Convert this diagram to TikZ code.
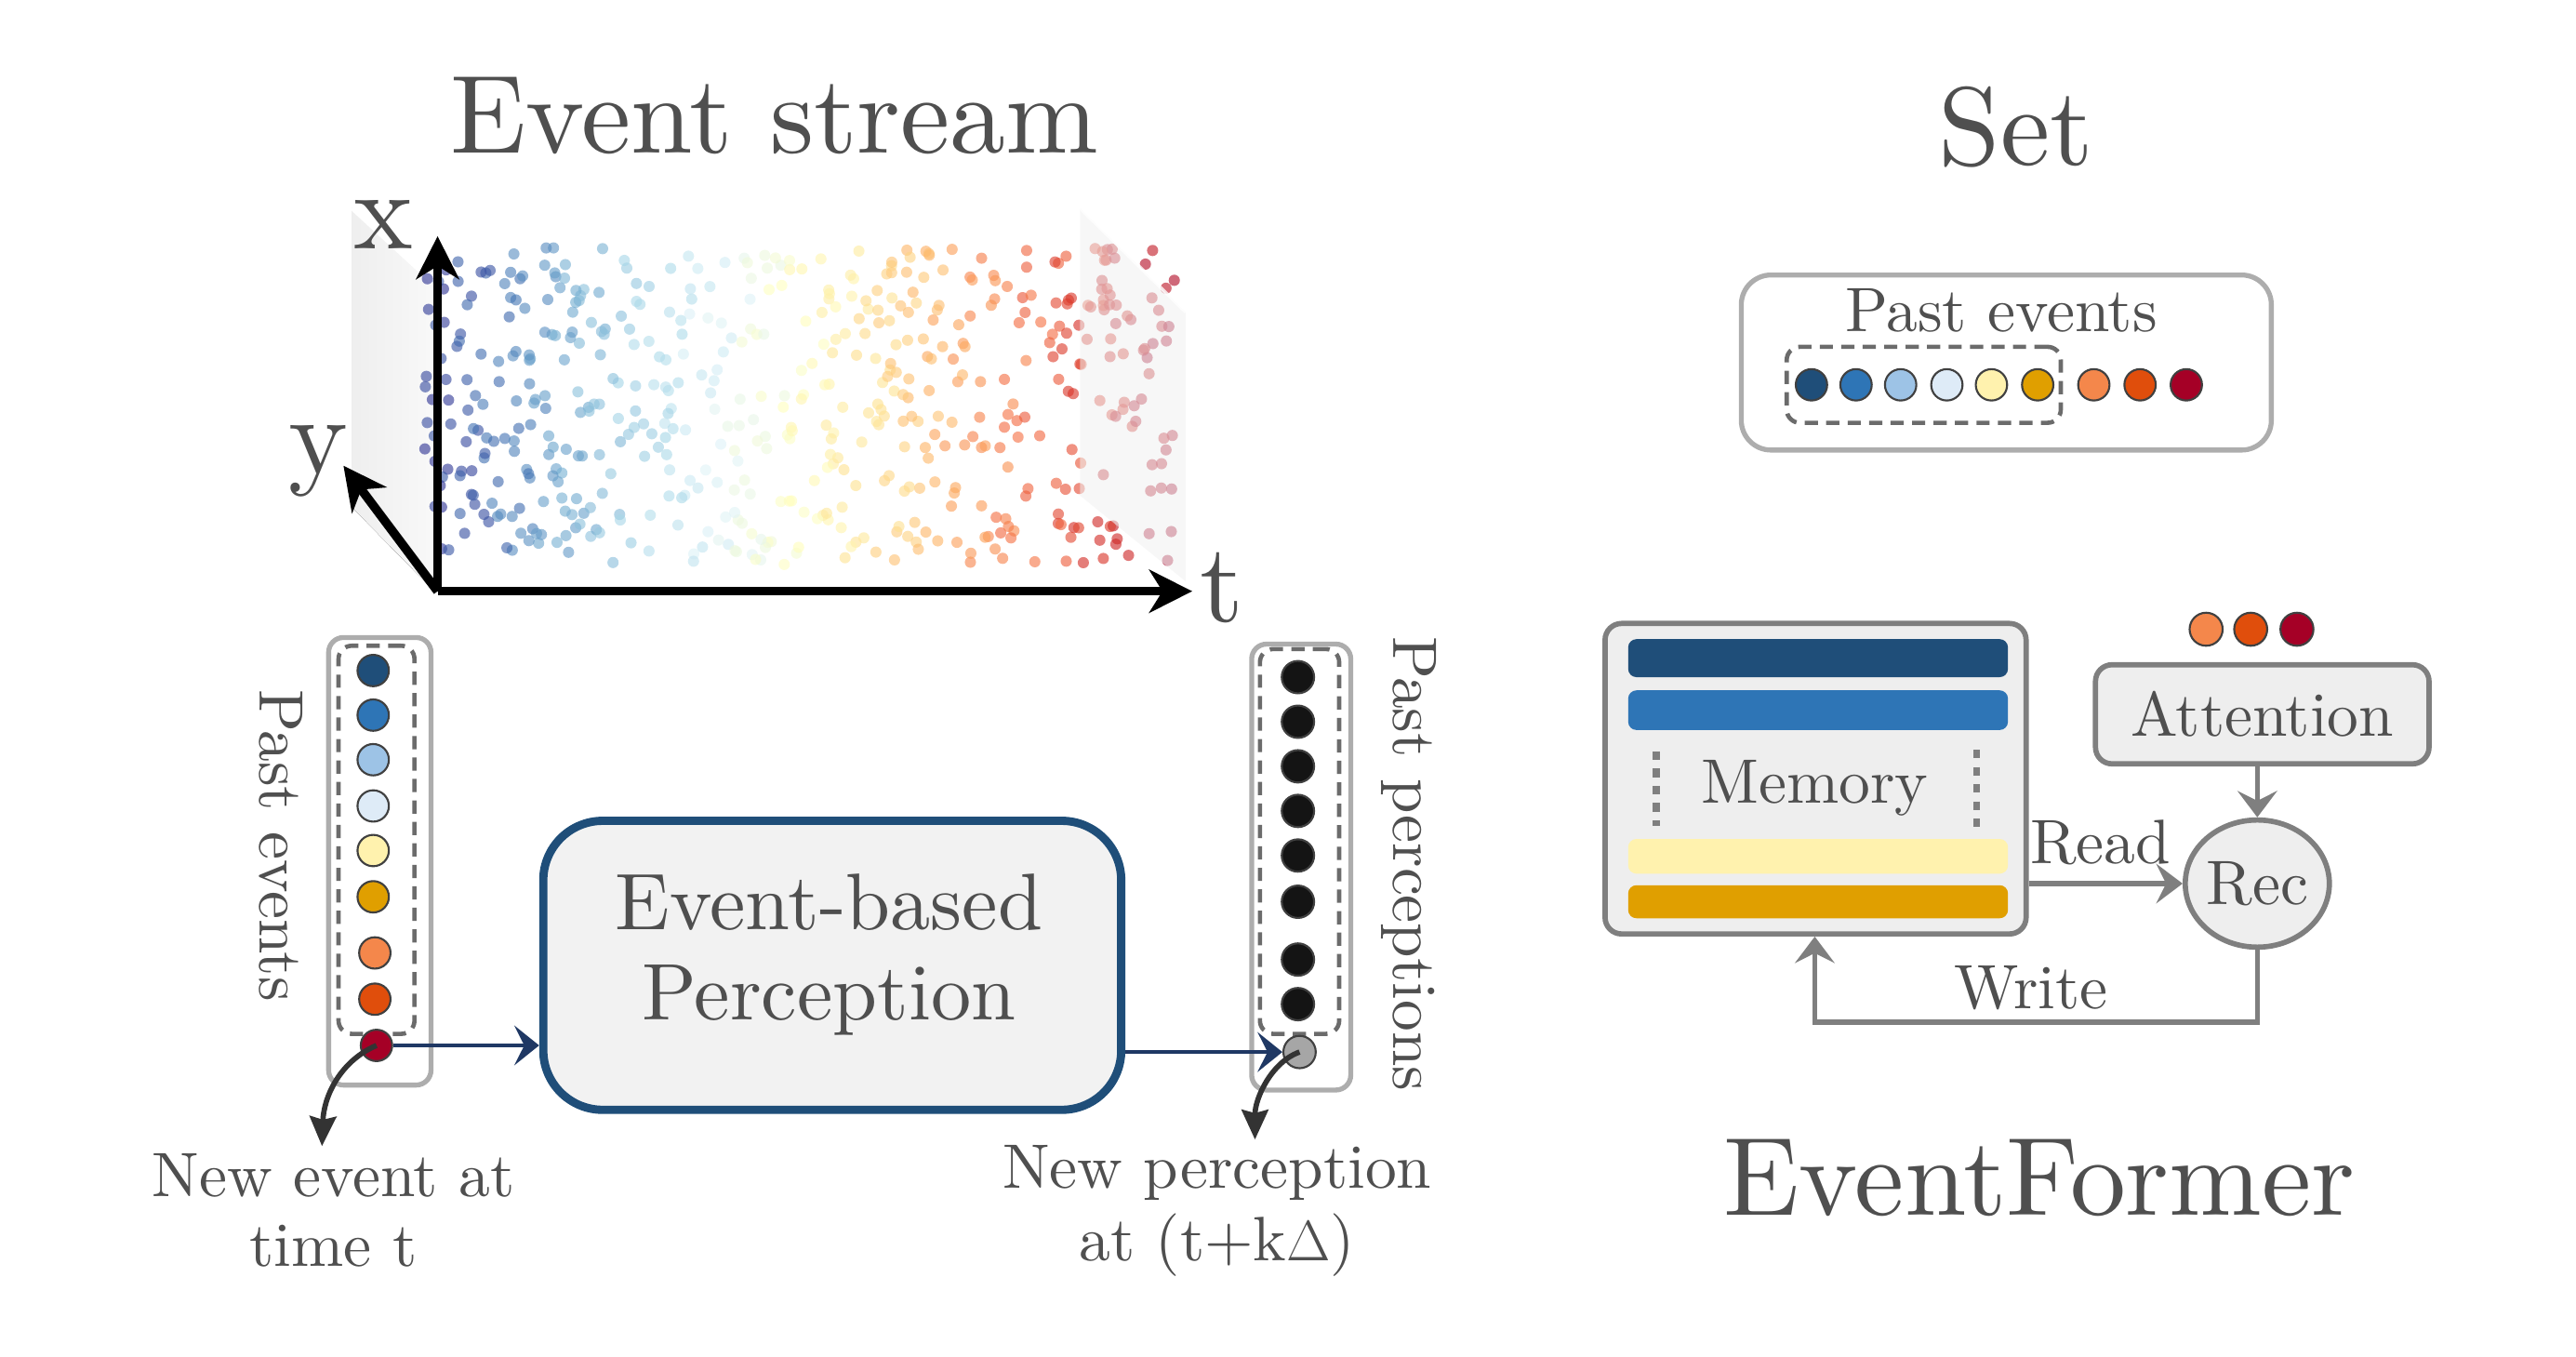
\documentclass[tikz,border=0pt]{standalone}
\usepackage{fontspec}
\setmainfont{lmroman10-regular.otf}
\usetikzlibrary{arrows.meta,shapes.geometric}
\definecolor{txt}{HTML}{4F4F4F}
\definecolor{navy}{HTML}{1F4E79}
\definecolor{arrnavy}{HTML}{1F3864}
\definecolor{gborder}{HTML}{ADADAD}
\definecolor{gdark}{HTML}{7F7F7F}
\definecolor{gfill}{HTML}{EEEEEE}
\definecolor{ev1}{HTML}{1F4E79}
\definecolor{ev2}{HTML}{2E75B6}
\definecolor{ev3}{HTML}{9DC3E6}
\definecolor{ev4}{HTML}{DEEBF7}
\definecolor{ev5}{HTML}{FFF2AE}
\definecolor{ev6}{HTML}{E09F00}
\definecolor{ev7}{HTML}{F4874B}
\definecolor{ev8}{HTML}{E04E0C}
\definecolor{ev9}{HTML}{A50026}
\definecolor{sc0}{HTML}{313695}
\definecolor{sc1}{HTML}{4575B4}
\definecolor{sc2}{HTML}{74ADD1}
\definecolor{sc3}{HTML}{ABD9E9}
\definecolor{sc4}{HTML}{E0F3F8}
\definecolor{sc5}{HTML}{FFFFBF}
\definecolor{sc6}{HTML}{FEE090}
\definecolor{sc7}{HTML}{FDAE61}
\definecolor{sc8}{HTML}{F46D43}
\definecolor{sc9}{HTML}{D73027}
\definecolor{sc10}{HTML}{A50026}
\tikzset{
  title/.style={text=txt, font=\fontsize{33.7}{40}\selectfont},
  axlbl/.style={text=txt, font=\fontsize{34}{40}\selectfont},
  lbl/.style={text=txt, font=\fontsize{19}{21}\selectfont},
  boxtxt/.style={text=txt, font=\fontsize{24.3}{27.5}\selectfont},
  evdot/.style={circle, draw=black!75, line width=0.6pt, minimum size=9.5pt, inner sep=0pt},
  pdot/.style={evdot, fill=black!92, minimum size=9.8pt},
  outerbox/.style={draw=gborder, line width=1.5pt, rounded corners=4.5pt, inner sep=0pt},
  dashbox/.style={draw=black!58, line width=1.3pt, dash pattern=on 4pt off 2.5pt, rounded corners=4pt, inner sep=0pt},
  axis/.style={line width=2.7pt, -{Stealth[length=13pt, width=13pt, inset=4pt]}},
  navyarr/.style={draw=arrnavy, line width=1.3pt, -{Stealth[length=7.5pt, width=12pt, inset=3pt]}},
  curvarr/.style={draw=black!80, line width=1.6pt, -{Stealth[length=9pt, width=8pt, inset=1pt]}},
  grayarr/.style={draw=gdark, line width=1.5pt, -{Stealth[length=8pt, width=12pt, inset=3pt]}},
  graybox/.style={draw=gdark, line width=1.6pt, fill=gfill, rounded corners=5pt, inner sep=0pt},
  bar/.style={rounded corners=2.5pt, inner sep=0pt, minimum width=115pt},
}
\begin{document}
\begin{tikzpicture}[x=0.5pt, y=-0.5pt]
\useasboundingbox (0,0) rectangle (1560,821.6);

% ---------- Event stream ----------
\node[title] (tes) at (469,70) {Event stream};

% left side panel
\fill[left color=gray!13, right color=gray!5] (213,126) -- (263,172) -- (263,358) -- (213,307) -- cycle;
\draw[white, line width=1.2pt] (213,126) -- (263,172);

% scatter
\pgfmathsetseed{4242}
\foreach \k in {1,...,580}{
  \pgfmathsetmacro\px{256+456*rnd}
  \pgfmathsetmacro\py{150+192*rnd}
  \pgfmathsetmacro\ct{max(0,min(9.999,(\px-256)/456*10+0.8*(rnd-0.5)))}
  \pgfmathtruncatemacro\ia{int(\ct)}
  \pgfmathtruncatemacro\ib{\ia+1}
  \pgfmathtruncatemacro\pc{100-100*(\ct-\ia)}
  \fill[fill=sc\ia!\pc!sc\ib, fill opacity=0.62] (\px,\py) circle[radius=3.4];
}

% right side panel
\fill[gray!12, fill opacity=0.55] (654,126) -- (718,189) -- (718,352) -- (654,300) -- cycle;
\draw[white, line width=1pt, opacity=0.8] (654,126) -- (718,189);

\coordinate (org) at (265,358);
\coordinate (xtip) at (265,143);
\coordinate (ttip) at (722,358);
\coordinate (ytip) at (208,282);
\draw[axis] (org) -- (xtip);
\draw[axis] (org) -- (ttip);
\draw[axis] (org) -- (ytip);
\node[axlbl] (lx) at (232,136) {x};
\node[axlbl] (ly) at (193,279) {y};
\node[axlbl] (lt) at (740,356) {t};

% ---------- Past events column ----------
\node[outerbox, minimum width=31pt, minimum height=135.5pt] (lcol) at (230,521.5) {};
\node[dashbox, minimum width=23pt, minimum height=117.5pt] (ldash) at (228,508.5) {};
\node[evdot, fill=ev1] (le1) at (226,406) {};
\node[evdot, fill=ev2] (le2) at (226,433) {};
\node[evdot, fill=ev3] (le3) at (226,460) {};
\node[evdot, fill=ev4] (le4) at (226,488) {};
\node[evdot, fill=ev5] (le5) at (226,515) {};
\node[evdot, fill=ev6] (le6) at (226,543) {};
\node[evdot, fill=ev7] (le7) at (227,577) {};
\node[evdot, fill=ev8] (le8) at (227,605) {};
\node[evdot, fill=ev9] (le9) at (228,633) {};
\node[lbl, rotate=-90] (lpast) at (170,512) {Past events};

% ---------- Perception box ----------
\node[draw=navy, line width=2.5pt, fill=black!5, rounded corners=18pt, minimum width=175pt, minimum height=87.5pt, inner sep=0pt] (perc) at (504,584.5) {};
\node[boxtxt, align=center] (perclbl) at (502,578) {Event-based\\Perception};

% ---------- Past perceptions column ----------
\node[outerbox, minimum width=30pt, minimum height=135pt] (rcol) at (788,525) {};
\node[dashbox, minimum width=24pt, minimum height=116.5pt] (rdash) at (787,509.5) {};
\foreach \yy [count=\n] in {410,437,464,491,518,546,581,608}{
  \node[pdot] (pp\n) at (786,\yy) {};
}
\node[evdot, fill=black!35, minimum size=9.8pt] (newp) at (787,637) {};
\node[lbl, rotate=-90] (rpast) at (853,523) {Past perceptions};

% arrows
\draw[navyarr] (le9.east) -- (le9.east -| perc.west);
\draw[navyarr] (perc.east |- newp.west) -- (newp.west);
\coordinate (c1) at (195,694);
\coordinate (c2) at (760,690);
\draw[curvarr] (le9.center) .. controls (205,643) and (196,665) .. (c1);
\draw[curvarr] (newp.center) .. controls (770,643) and (760,665) .. (c2);

\node[lbl, align=center] (newev) at (202,733) {New event at\\time t};
\node[lbl, align=center] (newpl) at (737,733) {New perception\\[1pt]at (t+k$\Delta$)};

% ---------- Right side ----------
\node[title] (tset) at (1221,77) {Set};
\node[outerbox, rounded corners=9pt, minimum width=160.5pt, minimum height=53pt] (setbox) at (1215,219.5) {};
\node[lbl] (setlbl) at (1212,188) {Past events};
\node[dashbox, minimum width=83pt, minimum height=23pt] (setdash) at (1165,233) {};
\node[evdot, fill=ev1] (s1) at (1097,233) {};
\node[evdot, fill=ev2] (s2) at (1124,233) {};
\node[evdot, fill=ev3] (s3) at (1151,233) {};
\node[evdot, fill=ev4] (s4) at (1179,233) {};
\node[evdot, fill=ev5] (s5) at (1206,233) {};
\node[evdot, fill=ev6] (s6) at (1234,233) {};
\node[evdot, fill=ev7] (s7) at (1268,233) {};
\node[evdot, fill=ev8] (s8) at (1296,233) {};
\node[evdot, fill=ev9] (s9) at (1324,233) {};

% memory
\node[graybox, minimum width=127.5pt, minimum height=94pt] (mem) at (1099.5,471.5) {};
\node[bar, fill=ev1, minimum height=11.5pt] (b1) at (1101,398.5) {};
\node[bar, fill=ev2, minimum height=12pt] (b2) at (1101,430) {};
\node[bar, fill=ev5, minimum height=10.5pt] (b3) at (1101,518.5) {};
\node[bar, fill=ev6, minimum height=10pt] (b4) at (1101,546) {};
\coordinate (dl1) at (1003,455);
\coordinate (dl2) at (1003,500);
\coordinate (dr1) at (1197,454);
\coordinate (dr2) at (1197,502);
\draw[gdark, line width=2pt, dash pattern=on 2.6pt off 2.6pt] (dl1) -- (dl2);
\draw[gdark, line width=2pt, dash pattern=on 2.6pt off 2.6pt] (dr1) -- (dr2);
\node[lbl] (memlbl) at (1099,477) {Memory};

% attention & rec
\node[evdot, fill=ev7, minimum size=10pt] (a1) at (1336,381) {};
\node[evdot, fill=ev8, minimum size=10pt] (a2) at (1363,381) {};
\node[evdot, fill=ev9, minimum size=10pt] (a3) at (1391,381) {};
\node[graybox, minimum width=101pt, minimum height=30pt, lbl] (attn) at (1370,432.5) {Attention};
\node[ellipse, draw=gdark, line width=1.6pt, fill=gfill, minimum width=43pt, minimum height=38.5pt, inner sep=0pt, lbl] (rec) at (1367,535) {Rec};

\draw[grayarr] (rec.north |- attn.south) -- (rec.north);
\draw[grayarr] (mem.east |- rec.west) -- (rec.west);
\node[lbl] (readlbl) at (1272,510) {Read};
\coordinate (wl) at (1099,619);
\draw[grayarr] (rec.south) |- (wl) -- (wl |- mem.south);
\node[lbl] (writelbl) at (1230,598) {Write};

\node[title] (tef) at (1235,713) {EventFormer};
\end{tikzpicture}
\end{document}
